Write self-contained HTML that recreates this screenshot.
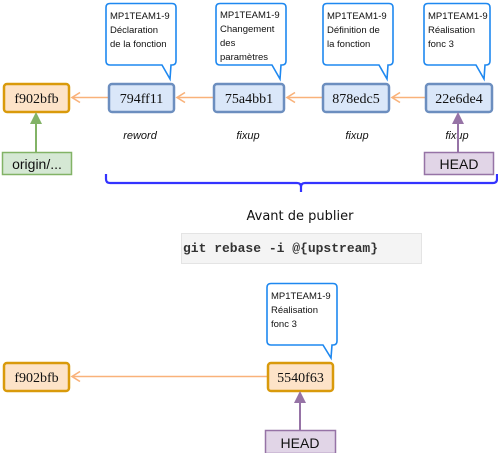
<!DOCTYPE html>
<html><head><meta charset="utf-8"><style>
html,body{margin:0;padding:0;background:#fff;}
svg{display:block;}
.c{font-family:"Liberation Sans",sans-serif;font-size:9.5px;fill:#111;}
.h{font-family:"Liberation Serif",serif;font-size:14px;fill:#111;}
.l{font-family:"Liberation Sans",sans-serif;font-size:11px;font-style:italic;fill:#111;}
</style></head><body>
<svg width="498" height="453" viewBox="0 0 498 453" xmlns="http://www.w3.org/2000/svg">
<!-- callouts -->
<g fill="#fff" stroke="#1e88f0" stroke-width="1.6">
<path d="M110,3.5 H172 Q176,3.5 176,7.5 V61 Q176,65 172,65 H171 L170,79 L162,65 H110 Q106,65 106,61 V7.5 Q106,3.5 110,3.5 Z"/>
<path d="M220,3.5 H282 Q286,3.5 286,7.5 V61 Q286,65 282,65 H281 L280,79 L272,65 H220 Q216,65 216,61 V7.5 Q216,3.5 220,3.5 Z"/>
<path d="M327,3.5 H389 Q393,3.5 393,7.5 V61 Q393,65 389,65 H388 L387,79 L379,65 H327 Q323,65 323,61 V7.5 Q323,3.5 327,3.5 Z"/>
<path d="M428,3.5 H486 Q490,3.5 490,7.5 V61 Q490,65 486,65 H485 L484,79 L476,65 H428 Q424,65 424,61 V7.5 Q424,3.5 428,3.5 Z"/>
<path d="M271,283.5 H333 Q337,283.5 337,287.5 V341 Q337,345 333,345 H332 L331,358 L323,345 H271 Q267,345 267,341 V287.5 Q267,283.5 271,283.5 Z"/>
</g>
<g class="c">
<text x="110" y="19">MP1TEAM1-9</text><text x="110" y="33">Déclaration</text><text x="110" y="47">de la fonction</text>
<text x="220" y="18">MP1TEAM1-9</text><text x="220" y="32">Changement</text><text x="220" y="46">des</text><text x="220" y="60">paramètres</text>
<text x="327" y="19">MP1TEAM1-9</text><text x="327" y="33">Définition de</text><text x="327" y="47">la fonction</text>
<text x="428" y="19">MP1TEAM1-9</text><text x="428" y="33">Réalisation</text><text x="428" y="47">fonc 3</text>
<text x="271" y="299">MP1TEAM1-9</text><text x="271" y="313">Réalisation</text><text x="271" y="327">fonc 3</text>
</g>
<!-- arrows -->
<g stroke="#f9b27a" stroke-width="1.6" fill="none">
<line x1="108" y1="97.5" x2="72" y2="97.5"/><path d="M80,92.5 L72,97.5 L80,102.5"/>
<line x1="213" y1="97.5" x2="177" y2="97.5"/><path d="M185,92.5 L177,97.5 L185,102.5"/>
<line x1="322" y1="97.5" x2="287" y2="97.5"/><path d="M295,92.5 L287,97.5 L295,102.5"/>
<line x1="425" y1="97.5" x2="392" y2="97.5"/><path d="M400,92.5 L392,97.5 L400,102.5"/>
<line x1="267" y1="376.5" x2="72" y2="376.5"/><path d="M80,371.5 L72,376.5 L80,381.5"/>
</g>
<!-- commit boxes -->
<g stroke-width="2.5">
<rect x="4" y="84" width="65" height="28" rx="3" fill="#fde3c8" stroke="#d99a0b"/>
<rect x="109" y="84" width="65" height="28" rx="3" fill="#dae7f9" stroke="#6c8ebf"/>
<rect x="214" y="84" width="70" height="28" rx="3" fill="#dae7f9" stroke="#6c8ebf"/>
<rect x="323" y="84" width="66" height="28" rx="3" fill="#dae7f9" stroke="#6c8ebf"/>
<rect x="426" y="84" width="66" height="28" rx="3" fill="#dae7f9" stroke="#6c8ebf"/>
<rect x="4" y="363" width="65" height="28" rx="3" fill="#fde3c8" stroke="#d99a0b"/>
<rect x="268" y="363" width="65" height="28" rx="3" fill="#fde3c8" stroke="#d99a0b"/>
</g>
<g class="h" text-anchor="middle">
<text x="36.5" y="103">f902bfb</text>
<text x="141.5" y="103">794ff11</text>
<text x="249" y="103">75a4bb1</text>
<text x="356" y="103">878edc5</text>
<text x="459" y="103">22e6de4</text>
<text x="36.5" y="382">f902bfb</text>
<text x="300.5" y="382">5540f63</text>
</g>
<g class="l" text-anchor="middle">
<text x="140" y="139">reword</text><text x="248" y="139">fixup</text><text x="357" y="139">fixup</text><text x="457" y="139">fixup</text>
</g>
<!-- origin -->
<line x1="36" y1="152" x2="36" y2="120" stroke="#82b366" stroke-width="2"/>
<path d="M30,124 L36,112 L42,124 Z" fill="#82b366"/>
<rect x="2.5" y="152.5" width="69" height="22" fill="#d5e8d4" stroke="#82b366" stroke-width="1.5"/>
<text x="37" y="169" text-anchor="middle" font-family="Liberation Sans,sans-serif" font-size="14" fill="#111">origin/...</text>
<!-- HEAD top -->
<line x1="458" y1="152" x2="458" y2="120" stroke="#9673a6" stroke-width="2"/>
<path d="M452,124 L458,112 L464,124 Z" fill="#9673a6"/>
<rect x="424.5" y="152.5" width="69" height="22" fill="#e1d5e7" stroke="#9673a6" stroke-width="1.5"/>
<text x="459" y="169" text-anchor="middle" font-family="Liberation Sans,sans-serif" font-size="14" fill="#111">HEAD</text>
<!-- HEAD bottom -->
<line x1="300" y1="430" x2="300" y2="399" stroke="#9673a6" stroke-width="2"/>
<path d="M294,403 L300,391 L306,403 Z" fill="#9673a6"/>
<rect x="265.5" y="430.5" width="70" height="23" fill="#e1d5e7" stroke="#9673a6" stroke-width="1.5"/>
<text x="300" y="448" text-anchor="middle" font-family="Liberation Sans,sans-serif" font-size="14" fill="#111">HEAD</text>
<!-- brace -->
<path d="M106,174 V179 Q106,183 110,183 H297 Q301,183 301,187 V192 M301,187 Q301,183 305,183 H493 Q497,183 497,179 V174" fill="none" stroke="#3333ff" stroke-width="2.2"/>
<text x="300" y="220" text-anchor="middle" font-family="'Comic Sans MS','DejaVu Sans',sans-serif" font-size="13" fill="#111">Avant de publier</text>
<rect x="181.5" y="233.5" width="240" height="30" fill="#f4f4f4" stroke="#e4e4e4"/>
<text x="183" y="252" font-family="Liberation Mono,monospace" font-size="13" font-weight="bold" fill="#333">git rebase -i @{upstream}</text>
</svg>
</body></html>
